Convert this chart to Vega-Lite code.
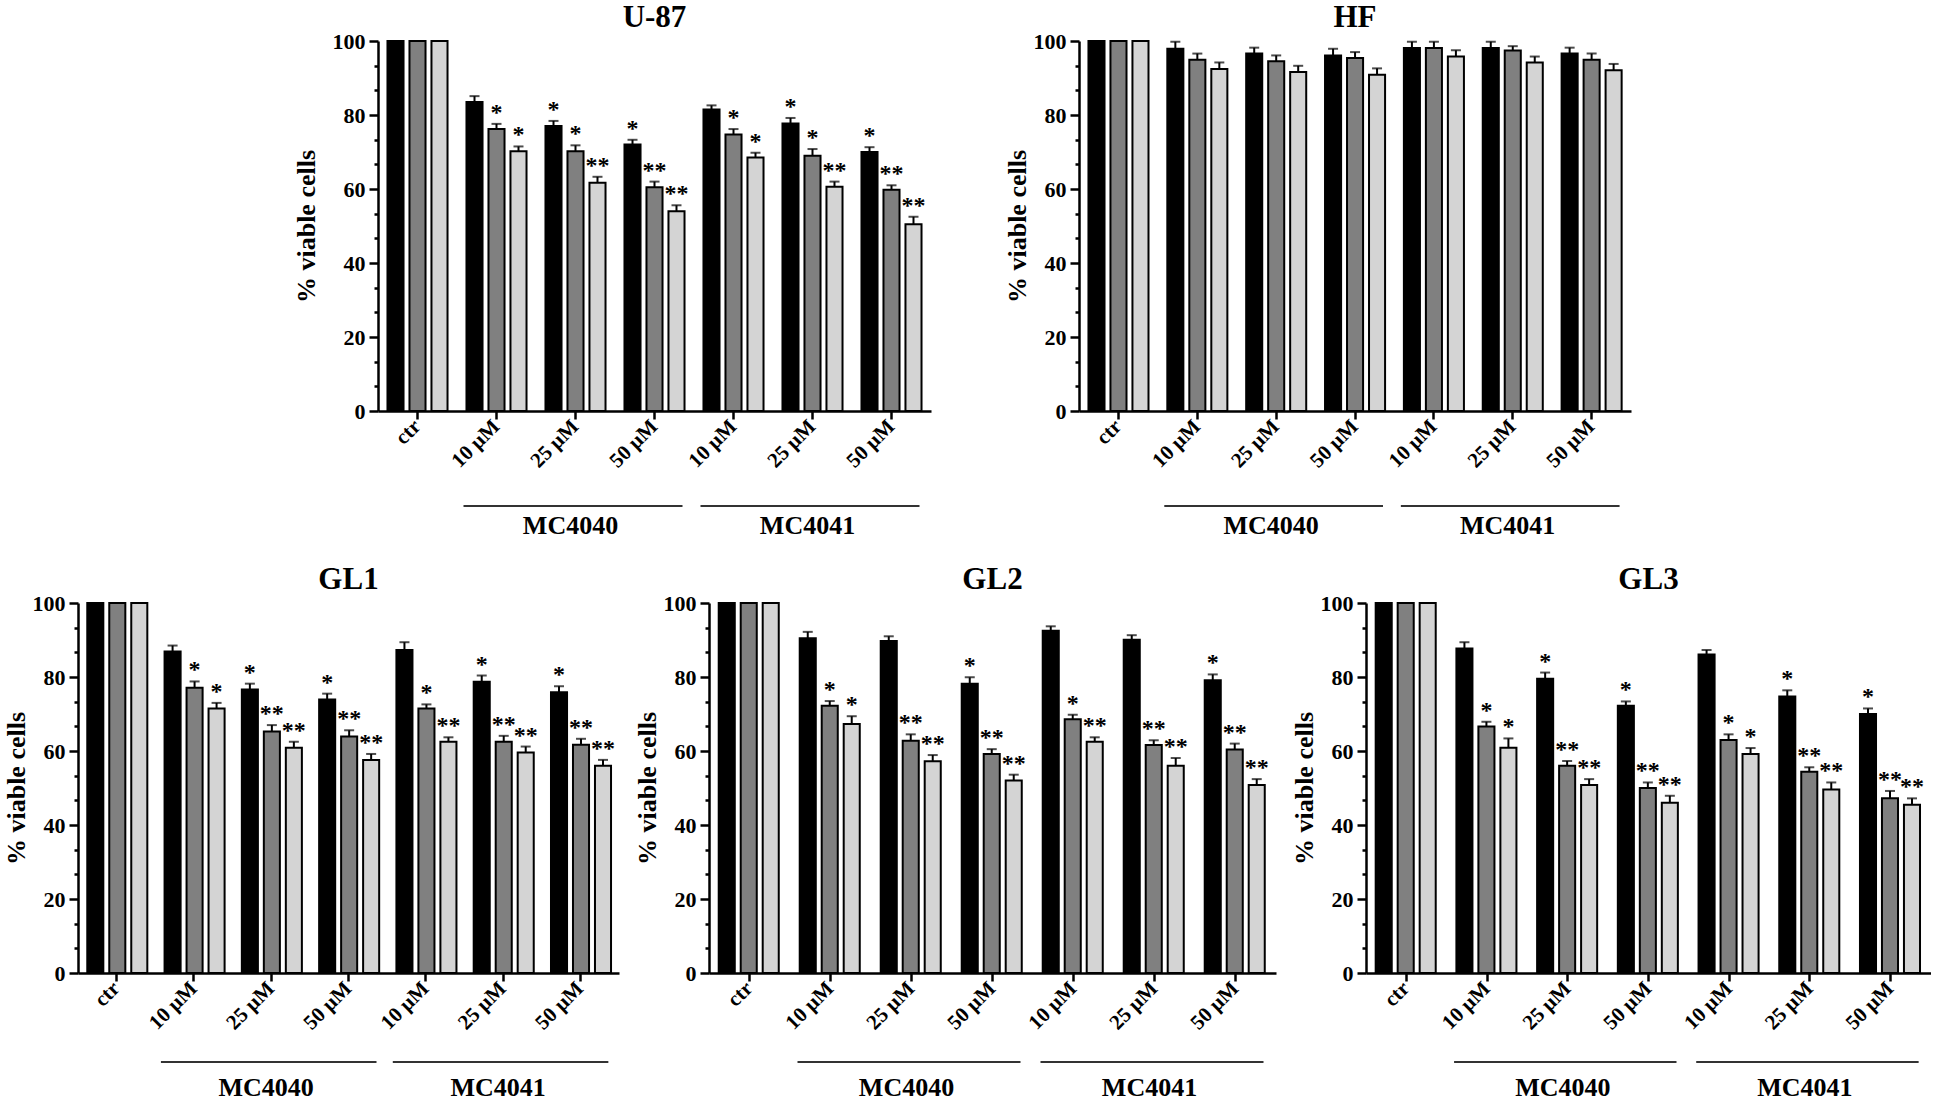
{
  "$schema": "https://vega.github.io/schema/vega-lite/v6.json",
  "background": "white",
  "padding": {"left": 3, "top": 2, "right": 0, "bottom": 0},
  "config": {
    "font": "Liberation Serif",
    "view": {"stroke": null},
    "axis": {"labelFont": "Liberation Serif", "labelFontWeight": "bold", "labelColor": "#000", "labelFontSize": 21, "titleFont": "Liberation Serif", "titleFontWeight": "bold", "titleFontSize": 26, "titleColor": "#000", "domainColor": "#000", "domainWidth": 2.5, "tickColor": "#000", "tickWidth": 2.5, "grid": false, "labelOverlap": false, "labelBound": false},
    "axisY": {"titlePadding": 3, "labelPadding": 4, "labelFontSize": 22},
    "axisX": {"labelAngle": -45, "labelAlign": "right", "labelBaseline": "middle", "labelPadding": 4, "tickSize": 8},
    "title": {"font": "Liberation Serif", "fontSize": 31, "fontWeight": "bold", "color": "#000", "offset": -16},
    "text": {"font": "Liberation Serif", "fontWeight": "bold"}
  },
  "datasets": {
    "brackets": [
      {"from": "MC4040:10 μM", "to": "MC4040:50 μM", "mid": "MC4040:25 μM", "label": "MC4040"},
      {"from": "MC4041:10 μM", "to": "MC4041:50 μM", "mid": "MC4041:25 μM", "label": "MC4041"}
    ],
    "cells": [
      {"p":"U-87","g":"ctr","s":"1","v":100,"hi":100,"sig":""},
      {"p":"U-87","g":"ctr","s":"2","v":100,"hi":100,"sig":""},
      {"p":"U-87","g":"ctr","s":"3","v":100,"hi":100,"sig":""},
      {"p":"U-87","g":"MC4040:10 μM","s":"1","v":83.5,"hi":85.1,"sig":""},
      {"p":"U-87","g":"MC4040:10 μM","s":"2","v":76.2,"hi":77.6,"sig":"*"},
      {"p":"U-87","g":"MC4040:10 μM","s":"3","v":70.2,"hi":71.5,"sig":"*"},
      {"p":"U-87","g":"MC4040:25 μM","s":"1","v":77.0,"hi":78.4,"sig":"*"},
      {"p":"U-87","g":"MC4040:25 μM","s":"2","v":70.2,"hi":71.8,"sig":"*"},
      {"p":"U-87","g":"MC4040:25 μM","s":"3","v":61.7,"hi":63.3,"sig":"**"},
      {"p":"U-87","g":"MC4040:50 μM","s":"1","v":72.0,"hi":73.3,"sig":"*"},
      {"p":"U-87","g":"MC4040:50 μM","s":"2","v":60.5,"hi":62.0,"sig":"**"},
      {"p":"U-87","g":"MC4040:50 μM","s":"3","v":54.0,"hi":55.6,"sig":"**"},
      {"p":"U-87","g":"MC4041:10 μM","s":"1","v":81.5,"hi":82.6,"sig":""},
      {"p":"U-87","g":"MC4041:10 μM","s":"2","v":74.7,"hi":76.2,"sig":"*"},
      {"p":"U-87","g":"MC4041:10 μM","s":"3","v":68.5,"hi":69.8,"sig":"*"},
      {"p":"U-87","g":"MC4041:25 μM","s":"1","v":77.7,"hi":79.2,"sig":"*"},
      {"p":"U-87","g":"MC4041:25 μM","s":"2","v":69.0,"hi":70.8,"sig":"*"},
      {"p":"U-87","g":"MC4041:25 μM","s":"3","v":60.6,"hi":62.0,"sig":"**"},
      {"p":"U-87","g":"MC4041:50 μM","s":"1","v":70.0,"hi":71.3,"sig":"*"},
      {"p":"U-87","g":"MC4041:50 μM","s":"2","v":59.8,"hi":61.0,"sig":"**"},
      {"p":"U-87","g":"MC4041:50 μM","s":"3","v":50.5,"hi":52.5,"sig":"**"},

      {"p":"HF","g":"ctr","s":"1","v":100,"hi":100,"sig":""},
      {"p":"HF","g":"ctr","s":"2","v":100,"hi":100,"sig":""},
      {"p":"HF","g":"ctr","s":"3","v":100,"hi":100,"sig":""},
      {"p":"HF","g":"MC4040:10 μM","s":"1","v":97.9,"hi":99.8,"sig":""},
      {"p":"HF","g":"MC4040:10 μM","s":"2","v":94.9,"hi":96.6,"sig":""},
      {"p":"HF","g":"MC4040:10 μM","s":"3","v":92.4,"hi":94.2,"sig":""},
      {"p":"HF","g":"MC4040:25 μM","s":"1","v":96.6,"hi":98.2,"sig":""},
      {"p":"HF","g":"MC4040:25 μM","s":"2","v":94.5,"hi":96.1,"sig":""},
      {"p":"HF","g":"MC4040:25 μM","s":"3","v":91.6,"hi":93.3,"sig":""},
      {"p":"HF","g":"MC4040:50 μM","s":"1","v":96.1,"hi":97.9,"sig":""},
      {"p":"HF","g":"MC4040:50 μM","s":"2","v":95.4,"hi":97.0,"sig":""},
      {"p":"HF","g":"MC4040:50 μM","s":"3","v":90.9,"hi":92.6,"sig":""},
      {"p":"HF","g":"MC4041:10 μM","s":"1","v":98.1,"hi":99.8,"sig":""},
      {"p":"HF","g":"MC4041:10 μM","s":"2","v":98.1,"hi":99.8,"sig":""},
      {"p":"HF","g":"MC4041:10 μM","s":"3","v":95.8,"hi":97.5,"sig":""},
      {"p":"HF","g":"MC4041:25 μM","s":"1","v":98.1,"hi":99.8,"sig":""},
      {"p":"HF","g":"MC4041:25 μM","s":"2","v":97.4,"hi":98.6,"sig":""},
      {"p":"HF","g":"MC4041:25 μM","s":"3","v":94.2,"hi":95.8,"sig":""},
      {"p":"HF","g":"MC4041:50 μM","s":"1","v":96.6,"hi":98.2,"sig":""},
      {"p":"HF","g":"MC4041:50 μM","s":"2","v":94.9,"hi":96.6,"sig":""},
      {"p":"HF","g":"MC4041:50 μM","s":"3","v":92.1,"hi":93.8,"sig":""},

      {"p":"GL1","g":"ctr","s":"1","v":100,"hi":100,"sig":""},
      {"p":"GL1","g":"ctr","s":"2","v":100,"hi":100,"sig":""},
      {"p":"GL1","g":"ctr","s":"3","v":100,"hi":100,"sig":""},
      {"p":"GL1","g":"MC4040:10 μM","s":"1","v":86.9,"hi":88.5,"sig":""},
      {"p":"GL1","g":"MC4040:10 μM","s":"2","v":77.1,"hi":78.8,"sig":"*"},
      {"p":"GL1","g":"MC4040:10 μM","s":"3","v":71.5,"hi":73.0,"sig":"*"},
      {"p":"GL1","g":"MC4040:25 μM","s":"1","v":76.6,"hi":78.2,"sig":"*"},
      {"p":"GL1","g":"MC4040:25 μM","s":"2","v":65.3,"hi":67.0,"sig":"**"},
      {"p":"GL1","g":"MC4040:25 μM","s":"3","v":60.9,"hi":62.5,"sig":"**"},
      {"p":"GL1","g":"MC4040:50 μM","s":"1","v":73.9,"hi":75.5,"sig":"*"},
      {"p":"GL1","g":"MC4040:50 μM","s":"2","v":63.9,"hi":65.6,"sig":"**"},
      {"p":"GL1","g":"MC4040:50 μM","s":"3","v":57.6,"hi":59.2,"sig":"**"},
      {"p":"GL1","g":"MC4041:10 μM","s":"1","v":87.3,"hi":89.4,"sig":""},
      {"p":"GL1","g":"MC4041:10 μM","s":"2","v":71.5,"hi":72.6,"sig":"*"},
      {"p":"GL1","g":"MC4041:10 μM","s":"3","v":62.5,"hi":63.7,"sig":"**"},
      {"p":"GL1","g":"MC4041:25 μM","s":"1","v":78.7,"hi":80.4,"sig":"*"},
      {"p":"GL1","g":"MC4041:25 μM","s":"2","v":62.5,"hi":64.1,"sig":"**"},
      {"p":"GL1","g":"MC4041:25 μM","s":"3","v":59.6,"hi":61.2,"sig":"**"},
      {"p":"GL1","g":"MC4041:50 μM","s":"1","v":75.9,"hi":77.5,"sig":"*"},
      {"p":"GL1","g":"MC4041:50 μM","s":"2","v":61.7,"hi":63.3,"sig":"**"},
      {"p":"GL1","g":"MC4041:50 μM","s":"3","v":56.0,"hi":57.6,"sig":"**"},

      {"p":"GL2","g":"ctr","s":"1","v":100,"hi":100,"sig":""},
      {"p":"GL2","g":"ctr","s":"2","v":100,"hi":100,"sig":""},
      {"p":"GL2","g":"ctr","s":"3","v":100,"hi":100,"sig":""},
      {"p":"GL2","g":"MC4040:10 μM","s":"1","v":90.5,"hi":92.2,"sig":""},
      {"p":"GL2","g":"MC4040:10 μM","s":"2","v":72.2,"hi":73.5,"sig":"*"},
      {"p":"GL2","g":"MC4040:10 μM","s":"3","v":67.3,"hi":69.4,"sig":"*"},
      {"p":"GL2","g":"MC4040:25 μM","s":"1","v":89.7,"hi":91.0,"sig":""},
      {"p":"GL2","g":"MC4040:25 μM","s":"2","v":62.8,"hi":64.5,"sig":"**"},
      {"p":"GL2","g":"MC4040:25 μM","s":"3","v":57.2,"hi":58.9,"sig":"**"},
      {"p":"GL2","g":"MC4040:50 μM","s":"1","v":78.2,"hi":79.9,"sig":"*"},
      {"p":"GL2","g":"MC4040:50 μM","s":"2","v":59.2,"hi":60.5,"sig":"**"},
      {"p":"GL2","g":"MC4040:50 μM","s":"3","v":52.0,"hi":53.6,"sig":"**"},
      {"p":"GL2","g":"MC4041:10 μM","s":"1","v":92.5,"hi":93.7,"sig":""},
      {"p":"GL2","g":"MC4041:10 μM","s":"2","v":68.6,"hi":69.8,"sig":"*"},
      {"p":"GL2","g":"MC4041:10 μM","s":"3","v":62.5,"hi":63.7,"sig":"**"},
      {"p":"GL2","g":"MC4041:25 μM","s":"1","v":90.1,"hi":91.3,"sig":""},
      {"p":"GL2","g":"MC4041:25 μM","s":"2","v":61.6,"hi":62.9,"sig":"**"},
      {"p":"GL2","g":"MC4041:25 μM","s":"3","v":56.0,"hi":58.1,"sig":"**"},
      {"p":"GL2","g":"MC4041:50 μM","s":"1","v":79.1,"hi":80.7,"sig":"*"},
      {"p":"GL2","g":"MC4041:50 μM","s":"2","v":60.4,"hi":62.0,"sig":"**"},
      {"p":"GL2","g":"MC4041:50 μM","s":"3","v":50.8,"hi":52.4,"sig":"**"},

      {"p":"GL3","g":"ctr","s":"1","v":100,"hi":100,"sig":""},
      {"p":"GL3","g":"ctr","s":"2","v":100,"hi":100,"sig":""},
      {"p":"GL3","g":"ctr","s":"3","v":100,"hi":100,"sig":""},
      {"p":"GL3","g":"MC4040:10 μM","s":"1","v":87.7,"hi":89.4,"sig":""},
      {"p":"GL3","g":"MC4040:10 μM","s":"2","v":66.6,"hi":67.9,"sig":"*"},
      {"p":"GL3","g":"MC4040:10 μM","s":"3","v":60.9,"hi":63.4,"sig":"*"},
      {"p":"GL3","g":"MC4040:25 μM","s":"1","v":79.5,"hi":81.2,"sig":"*"},
      {"p":"GL3","g":"MC4040:25 μM","s":"2","v":56.0,"hi":57.3,"sig":"**"},
      {"p":"GL3","g":"MC4040:25 μM","s":"3","v":50.8,"hi":52.4,"sig":"**"},
      {"p":"GL3","g":"MC4040:50 μM","s":"1","v":72.2,"hi":73.4,"sig":"*"},
      {"p":"GL3","g":"MC4040:50 μM","s":"2","v":50.0,"hi":51.5,"sig":"**"},
      {"p":"GL3","g":"MC4040:50 μM","s":"3","v":46.0,"hi":47.9,"sig":"**"},
      {"p":"GL3","g":"MC4041:10 μM","s":"1","v":86.1,"hi":87.3,"sig":""},
      {"p":"GL3","g":"MC4041:10 μM","s":"2","v":63.0,"hi":64.5,"sig":"*"},
      {"p":"GL3","g":"MC4041:10 μM","s":"3","v":59.2,"hi":60.8,"sig":"*"},
      {"p":"GL3","g":"MC4041:25 μM","s":"1","v":74.7,"hi":76.4,"sig":"*"},
      {"p":"GL3","g":"MC4041:25 μM","s":"2","v":54.4,"hi":55.6,"sig":"**"},
      {"p":"GL3","g":"MC4041:25 μM","s":"3","v":49.6,"hi":51.5,"sig":"**"},
      {"p":"GL3","g":"MC4041:50 μM","s":"1","v":70.0,"hi":71.5,"sig":"*"},
      {"p":"GL3","g":"MC4041:50 μM","s":"2","v":47.2,"hi":49.2,"sig":"**"},
      {"p":"GL3","g":"MC4041:50 μM","s":"3","v":45.5,"hi":47.2,"sig":"**"}
    ]
  },
  "vconcat": [
    {
      "hconcat": [
        {
          "width": 553, "height": 370, "title": "U-87",
          "resolve": {"axis": {"y": "independent"}},
          "layer": [
            {
              "data": {"name": "cells"},
              "transform": [{"filter": "datum.p === 'U-87'"}],
              "resolve": {"axis": {"y": "independent"}},
              "encoding": {
                "x": {"field": "g", "type": "nominal", "title": null, "scale": {"domain": ["ctr","MC4040:10 μM","MC4040:25 μM","MC4040:50 μM","MC4041:10 μM","MC4041:25 μM","MC4041:50 μM"], "paddingInner": 0.24, "paddingOuter": 0.12}, "axis": {"labelExpr": "peek(split(datum.value, ':'))"}},
                "xOffset": {"field": "s", "type": "nominal", "scale": {"domain": ["1","2","3"], "paddingInner": 0.27, "paddingOuter": 0}}
              },
              "layer": [
                {"mark": {"type": "bar", "stroke": "#000", "strokeWidth": 2},
                 "encoding": {"y": {"field": "v", "type": "quantitative", "title": "% viable cells", "scale": {"domain": [0, 100], "nice": false}, "axis": {"orient": "left", "values": [0, 20, 40, 60, 80, 100], "tickSize": 9, "titlePadding": 13}},
                  "color": {"field": "s", "type": "nominal", "scale": {"domain": ["1","2","3"], "range": ["#000000","#808080","#d4d4d4"]}, "legend": null}}},
                {"mark": {"type": "rule", "color": "#000", "strokeWidth": 2}, "encoding": {"y": {"field": "v", "type": "quantitative", "title": null, "axis": {"orient": "left", "values": [6.667,13.333,26.667,33.333,46.667,53.333,66.667,73.333,86.667,93.333], "labels": false, "domain": false, "tickSize": 4, "title": null}}, "y2": {"field": "hi"}}},
                {"mark": {"type": "tick", "color": "#000", "thickness": 2, "size": 10}, "encoding": {"y": {"field": "hi", "type": "quantitative", "axis": null}}},
                {"mark": {"type": "text", "baseline": "alphabetic", "dy": -4, "fontSize": 24, "color": "#000"}, "encoding": {"y": {"field": "hi", "type": "quantitative", "axis": null}, "text": {"field": "sig"}}}
              ]
            },
            {
              "data": {"name": "brackets"},
              "layer": [
                {"mark": {"type": "rule", "color": "#333", "strokeWidth": 2, "xOffset": -33, "x2Offset": 28, "yOffset": 95},
                 "encoding": {"x": {"field": "from", "type": "nominal", "title": null}, "x2": {"field": "to"}, "y": {"datum": 0, "axis": null}}},
                {"mark": {"type": "text", "fontSize": 26, "color": "#000", "baseline": "middle", "yOffset": 115, "dx": -5},
                 "encoding": {"x": {"field": "mid", "type": "nominal", "title": null}, "y": {"datum": 0, "axis": null}, "text": {"field": "label"}}}
              ]
            }
          ]
        },
        {
          "width": 552, "height": 370, "title": "HF",
          "resolve": {"axis": {"y": "independent"}},
          "layer": [
            {
              "data": {"name": "cells"},
              "transform": [{"filter": "datum.p === 'HF'"}],
              "resolve": {"axis": {"y": "independent"}},
              "encoding": {
                "x": {"field": "g", "type": "nominal", "title": null, "scale": {"domain": ["ctr","MC4040:10 μM","MC4040:25 μM","MC4040:50 μM","MC4041:10 μM","MC4041:25 μM","MC4041:50 μM"], "paddingInner": 0.24, "paddingOuter": 0.12}, "axis": {"labelExpr": "peek(split(datum.value, ':'))"}},
                "xOffset": {"field": "s", "type": "nominal", "scale": {"domain": ["1","2","3"], "paddingInner": 0.27, "paddingOuter": 0}}
              },
              "layer": [
                {"mark": {"type": "bar", "stroke": "#000", "strokeWidth": 2},
                 "encoding": {"y": {"field": "v", "type": "quantitative", "title": "% viable cells", "scale": {"domain": [0, 100], "nice": false}, "axis": {"orient": "left", "values": [0, 20, 40, 60, 80, 100], "tickSize": 9}},
                  "color": {"field": "s", "type": "nominal", "scale": {"domain": ["1","2","3"], "range": ["#000000","#808080","#d4d4d4"]}, "legend": null}}},
                {"mark": {"type": "rule", "color": "#000", "strokeWidth": 2}, "encoding": {"y": {"field": "v", "type": "quantitative", "title": null, "axis": {"orient": "left", "values": [6.667,13.333,26.667,33.333,46.667,53.333,66.667,73.333,86.667,93.333], "labels": false, "domain": false, "tickSize": 4, "title": null}}, "y2": {"field": "hi"}}},
                {"mark": {"type": "tick", "color": "#000", "thickness": 2, "size": 10}, "encoding": {"y": {"field": "hi", "type": "quantitative", "axis": null}}},
                {"mark": {"type": "text", "baseline": "alphabetic", "dy": -4, "fontSize": 24, "color": "#000"}, "encoding": {"y": {"field": "hi", "type": "quantitative", "axis": null}, "text": {"field": "sig"}}}
              ]
            },
            {
              "data": {"name": "brackets"},
              "layer": [
                {"mark": {"type": "rule", "color": "#333", "strokeWidth": 2, "xOffset": -33, "x2Offset": 28, "yOffset": 95},
                 "encoding": {"x": {"field": "from", "type": "nominal", "title": null}, "x2": {"field": "to"}, "y": {"datum": 0, "axis": null}}},
                {"mark": {"type": "text", "fontSize": 26, "color": "#000", "baseline": "middle", "yOffset": 115, "dx": -5},
                 "encoding": {"x": {"field": "mid", "type": "nominal", "title": null}, "y": {"datum": 0, "axis": null}, "text": {"field": "label"}}}
              ]
            }
          ]
        }
      ],
      "spacing": 73
    },
    {
      "hconcat": [
        {
          "width": 541, "height": 370, "title": "GL1",
          "resolve": {"axis": {"y": "independent"}},
          "layer": [
            {
              "data": {"name": "cells"},
              "transform": [{"filter": "datum.p === 'GL1'"}],
              "resolve": {"axis": {"y": "independent"}},
              "encoding": {
                "x": {"field": "g", "type": "nominal", "title": null, "scale": {"domain": ["ctr","MC4040:10 μM","MC4040:25 μM","MC4040:50 μM","MC4041:10 μM","MC4041:25 μM","MC4041:50 μM"], "paddingInner": 0.24, "paddingOuter": 0.12}, "axis": {"labelExpr": "peek(split(datum.value, ':'))"}},
                "xOffset": {"field": "s", "type": "nominal", "scale": {"domain": ["1","2","3"], "paddingInner": 0.27, "paddingOuter": 0}}
              },
              "layer": [
                {"mark": {"type": "bar", "stroke": "#000", "strokeWidth": 2},
                 "encoding": {"y": {"field": "v", "type": "quantitative", "title": "% viable cells", "scale": {"domain": [0, 100], "nice": false}, "axis": {"orient": "left", "values": [0, 20, 40, 60, 80, 100], "tickSize": 9}},
                  "color": {"field": "s", "type": "nominal", "scale": {"domain": ["1","2","3"], "range": ["#000000","#808080","#d4d4d4"]}, "legend": null}}},
                {"mark": {"type": "rule", "color": "#000", "strokeWidth": 2}, "encoding": {"y": {"field": "v", "type": "quantitative", "title": null, "axis": {"orient": "left", "values": [6.667,13.333,26.667,33.333,46.667,53.333,66.667,73.333,86.667,93.333], "labels": false, "domain": false, "tickSize": 4, "title": null}}, "y2": {"field": "hi"}}},
                {"mark": {"type": "tick", "color": "#000", "thickness": 2, "size": 10}, "encoding": {"y": {"field": "hi", "type": "quantitative", "axis": null}}},
                {"mark": {"type": "text", "baseline": "alphabetic", "dy": -4, "fontSize": 24, "color": "#000"}, "encoding": {"y": {"field": "hi", "type": "quantitative", "axis": null}, "text": {"field": "sig"}}}
              ]
            },
            {
              "data": {"name": "brackets"},
              "layer": [
                {"mark": {"type": "rule", "color": "#333", "strokeWidth": 2, "xOffset": -33, "x2Offset": 28, "yOffset": 89},
                 "encoding": {"x": {"field": "from", "type": "nominal", "title": null}, "x2": {"field": "to"}, "y": {"datum": 0, "axis": null}}},
                {"mark": {"type": "text", "fontSize": 26, "color": "#000", "baseline": "middle", "yOffset": 115, "dx": -5},
                 "encoding": {"x": {"field": "mid", "type": "nominal", "title": null}, "y": {"datum": 0, "axis": null}, "text": {"field": "label"}}}
              ]
            }
          ]
        },
        {
          "width": 567, "height": 370, "title": "GL2",
          "resolve": {"axis": {"y": "independent"}},
          "layer": [
            {
              "data": {"name": "cells"},
              "transform": [{"filter": "datum.p === 'GL2'"}],
              "resolve": {"axis": {"y": "independent"}},
              "encoding": {
                "x": {"field": "g", "type": "nominal", "title": null, "scale": {"domain": ["ctr","MC4040:10 μM","MC4040:25 μM","MC4040:50 μM","MC4041:10 μM","MC4041:25 μM","MC4041:50 μM"], "paddingInner": 0.24, "paddingOuter": 0.12}, "axis": {"labelExpr": "peek(split(datum.value, ':'))"}},
                "xOffset": {"field": "s", "type": "nominal", "scale": {"domain": ["1","2","3"], "paddingInner": 0.27, "paddingOuter": 0}}
              },
              "layer": [
                {"mark": {"type": "bar", "stroke": "#000", "strokeWidth": 2},
                 "encoding": {"y": {"field": "v", "type": "quantitative", "title": "% viable cells", "scale": {"domain": [0, 100], "nice": false}, "axis": {"orient": "left", "values": [0, 20, 40, 60, 80, 100], "tickSize": 9}},
                  "color": {"field": "s", "type": "nominal", "scale": {"domain": ["1","2","3"], "range": ["#000000","#808080","#d4d4d4"]}, "legend": null}}},
                {"mark": {"type": "rule", "color": "#000", "strokeWidth": 2}, "encoding": {"y": {"field": "v", "type": "quantitative", "title": null, "axis": {"orient": "left", "values": [6.667,13.333,26.667,33.333,46.667,53.333,66.667,73.333,86.667,93.333], "labels": false, "domain": false, "tickSize": 4, "title": null}}, "y2": {"field": "hi"}}},
                {"mark": {"type": "tick", "color": "#000", "thickness": 2, "size": 10}, "encoding": {"y": {"field": "hi", "type": "quantitative", "axis": null}}},
                {"mark": {"type": "text", "baseline": "alphabetic", "dy": -4, "fontSize": 24, "color": "#000"}, "encoding": {"y": {"field": "hi", "type": "quantitative", "axis": null}, "text": {"field": "sig"}}}
              ]
            },
            {
              "data": {"name": "brackets"},
              "layer": [
                {"mark": {"type": "rule", "color": "#333", "strokeWidth": 2, "xOffset": -33, "x2Offset": 28, "yOffset": 89},
                 "encoding": {"x": {"field": "from", "type": "nominal", "title": null}, "x2": {"field": "to"}, "y": {"datum": 0, "axis": null}}},
                {"mark": {"type": "text", "fontSize": 26, "color": "#000", "baseline": "middle", "yOffset": 115, "dx": -5},
                 "encoding": {"x": {"field": "mid", "type": "nominal", "title": null}, "y": {"datum": 0, "axis": null}, "text": {"field": "label"}}}
              ]
            }
          ]
        },
        {
          "width": 565, "height": 370, "title": "GL3",
          "resolve": {"axis": {"y": "independent"}},
          "layer": [
            {
              "data": {"name": "cells"},
              "transform": [{"filter": "datum.p === 'GL3'"}],
              "resolve": {"axis": {"y": "independent"}},
              "encoding": {
                "x": {"field": "g", "type": "nominal", "title": null, "scale": {"domain": ["ctr","MC4040:10 μM","MC4040:25 μM","MC4040:50 μM","MC4041:10 μM","MC4041:25 μM","MC4041:50 μM"], "paddingInner": 0.24, "paddingOuter": 0.12}, "axis": {"labelExpr": "peek(split(datum.value, ':'))"}},
                "xOffset": {"field": "s", "type": "nominal", "scale": {"domain": ["1","2","3"], "paddingInner": 0.27, "paddingOuter": 0}}
              },
              "layer": [
                {"mark": {"type": "bar", "stroke": "#000", "strokeWidth": 2},
                 "encoding": {"y": {"field": "v", "type": "quantitative", "title": "% viable cells", "scale": {"domain": [0, 100], "nice": false}, "axis": {"orient": "left", "values": [0, 20, 40, 60, 80, 100], "tickSize": 9}},
                  "color": {"field": "s", "type": "nominal", "scale": {"domain": ["1","2","3"], "range": ["#000000","#808080","#d4d4d4"]}, "legend": null}}},
                {"mark": {"type": "rule", "color": "#000", "strokeWidth": 2}, "encoding": {"y": {"field": "v", "type": "quantitative", "title": null, "axis": {"orient": "left", "values": [6.667,13.333,26.667,33.333,46.667,53.333,66.667,73.333,86.667,93.333], "labels": false, "domain": false, "tickSize": 4, "title": null}}, "y2": {"field": "hi"}}},
                {"mark": {"type": "tick", "color": "#000", "thickness": 2, "size": 10}, "encoding": {"y": {"field": "hi", "type": "quantitative", "axis": null}}},
                {"mark": {"type": "text", "baseline": "alphabetic", "dy": -4, "fontSize": 24, "color": "#000"}, "encoding": {"y": {"field": "hi", "type": "quantitative", "axis": null}, "text": {"field": "sig"}}}
              ]
            },
            {
              "data": {"name": "brackets"},
              "layer": [
                {"mark": {"type": "rule", "color": "#333", "strokeWidth": 2, "xOffset": -33, "x2Offset": 28, "yOffset": 89},
                 "encoding": {"x": {"field": "from", "type": "nominal", "title": null}, "x2": {"field": "to"}, "y": {"datum": 0, "axis": null}}},
                {"mark": {"type": "text", "fontSize": 26, "color": "#000", "baseline": "middle", "yOffset": 115, "dx": -5},
                 "encoding": {"x": {"field": "mid", "type": "nominal", "title": null}, "y": {"datum": 0, "axis": null}, "text": {"field": "label"}}}
              ]
            }
          ]
        }
      ],
      "spacing": 15
    }
  ],
  "spacing": 25,
  "center": true
}
